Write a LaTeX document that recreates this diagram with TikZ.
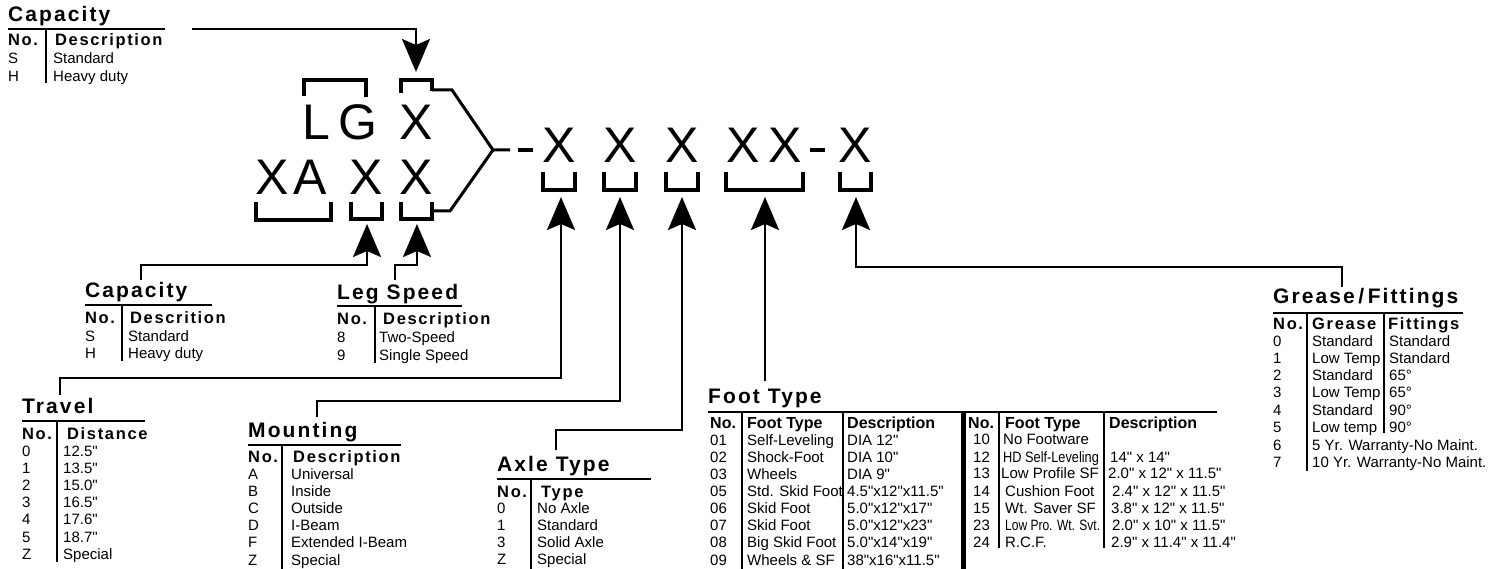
\documentclass[tikz,border=0pt]{standalone}
\usepackage{fontspec}
\setmainfont{Liberation Sans}[Ligatures=TeXOff]
\newfontfamily\ttlf[LetterSpace=10]{Liberation Sans}
\newfontfamily\hdrf[LetterSpace=10]{Liberation Sans}
\newfontfamily\condA[FakeStretch=0.85,Ligatures=TeXOff]{Liberation Sans}
\newfontfamily\condB[FakeStretch=0.8,Ligatures=TeXOff]{Liberation Sans}
\usetikzlibrary{arrows.meta}
\begin{document}
\begin{tikzpicture}[x=1pt,y=-1pt,
 ttl/.style={anchor=base west,inner sep=0,font=\fontsize{21}{21}\ttlf\bfseries},
 hdr/.style={anchor=base west,inner sep=0,font=\fontsize{16.5}{16.5}\hdrf\bfseries},
 fhdr/.style={anchor=base west,inner sep=0,font=\fontsize{16}{16}\selectfont\bfseries},
 cell/.style={anchor=base west,inner sep=0,font=\fontsize{15}{16}\selectfont},
 big/.style={anchor=base,inner sep=0,font=\fontsize{50}{50}\selectfont},
 rul/.style={line width=1.8pt},
 brk/.style={line width=3.5pt,line join=miter},
 ylin/.style={line width=3pt,line join=miter},
 conn/.style={line width=2pt,-{Stealth[length=33pt,width=28pt,inset=6pt]}},
]
\useasboundingbox (0,0) rectangle (1509,569);

% ---------- big code letters ----------
\node[big] (tL) at (316,140) {L};
\node[big] (tG) at (358,140) {G};
\node[big] (tX) at (416,140) {X};
\node[big] (bX1) at (272,195) {X};
\node[big] (bA) at (310,195) {A};
\node[big] (bX2) at (366,195) {X};
\node[big] (bX3) at (416,195) {X};
\node[big] (m1) at (559,163) {X};
\node[big] (m2) at (620,163) {X};
\node[big] (m3) at (682,163) {X};
\node[big] (m4) at (743,163) {X};
\node[big] (m5) at (785,163) {X};
\node[big] (m6) at (855,163) {X};
\draw[line width=4pt] (518,150) -- (533,150);
\draw[line width=4pt] (810,150) -- (825,150);

% ---------- brackets ----------
\draw[brk] (304,96) -- (304,80) -- (366,80) -- (366,97);
\draw[brk] (401,93) -- (401,80) -- (432,80) -- (432,91);
\draw[brk] (256,202) -- (256,220) -- (331,220) -- (331,202);
\draw[brk] (351,202) -- (351,219) -- (382,219) -- (382,202);
\draw[brk] (401,202) -- (401,219) -- (432,219) -- (432,202);
\coordinate (jn) at (493,150);
\draw[ylin] (432,90) -- (452,90) -- (jn) -- (510,150);
\draw[ylin] (432,211) -- (450,211) -- (jn);
\draw[brk] (543,172) -- (543,190) -- (575,190) -- (575,172);
\draw[brk] (604,172) -- (604,190) -- (636,190) -- (636,172);
\draw[brk] (666,172) -- (666,190) -- (698,190) -- (698,172);
\draw[brk] (726,172) -- (726,190) -- (803,190) -- (803,172);
\draw[brk] (840,172) -- (840,190) -- (871,190) -- (871,172);

% ---------- arrow tips ----------
\coordinate (tipTop) at (416,72);
\coordinate (tipCap) at (367,224);
\coordinate (tipLeg) at (417,224);
\coordinate (tipTr) at (561,197);
\coordinate (tipMo) at (620,197);
\coordinate (tipAx) at (682,197);
\coordinate (tipFo) at (765,197);
\coordinate (tipGr) at (856,197);

% ---------- top Capacity ----------
\node[ttl] (capT) at (8,22) {Capacity};
\draw[rul] (8,29) -- (165,29);
\draw[rul] (46,29) -- (46,83);
\node[hdr] (capTn) at (8,46) {No.};
\node[hdr] (capTd) at (55,46) {Description};
\node[cell] (capT1) at (8,64) {S};
\node[cell] (capT2) at (53,64) {Standard};
\node[cell] (capT3) at (8,82) {H};
\node[cell] (capT4) at (53,82) {Heavy duty};
\coordinate (capTs) at (192,29);
\draw[conn] (capTs) -| (tipTop);

% ---------- lower Capacity ----------
\node[ttl] (capL) at (85,298) {Capacity};
\draw[rul] (85,305) -- (212,305);
\draw[rul] (122,305) -- (122,361);
\node[hdr] (capLn) at (85,323) {No.};
\node[hdr] (capLd) at (130,323) {Descrition};
\node[cell] (capL1) at (85,341) {S};
\node[cell] (capL2) at (128,341) {Standard};
\node[cell] (capL3) at (85,358) {H};
\node[cell] (capL4) at (128,358) {Heavy duty};
\coordinate (capLs) at (141,280);
\draw[conn] (capLs) -- (141,265) -| (tipCap);

% ---------- Leg Speed ----------
\node[ttl] (leg) at (337,299) {Leg Speed};
\draw[rul] (337,306) -- (462,306);
\draw[rul] (375,306) -- (375,363);
\node[hdr] (legn) at (337,324) {No.};
\node[hdr] (legd) at (383,324) {Description};
\node[cell] (leg1) at (337,342) {8};
\node[cell] (leg2) at (379,342) {Two-Speed};
\node[cell] (leg3) at (337,360) {9};
\node[cell] (leg4) at (379,360) {Single Speed};
\coordinate (legs) at (395,280);
\draw[conn] (legs) -- (395,265) -| (tipLeg);

% ---------- Travel ----------
\node[ttl] (trv) at (22,413) {Travel};
\draw[rul] (22,421) -- (145,421);
\draw[rul] (57,421) -- (57,562);
\node[hdr] (trvn) at (22,439) {No.};
\node[hdr] (trvd) at (67,439) {Distance};
\foreach \ka/\kb [count=\i] in {0/12.5",1/13.5",2/15.0",3/16.5",4/17.6",5/18.7",Z/Special}{
  \node[cell] (trvA\i) at (22,{456+17.2*(\i-1)}) {\ka};
  \node[cell] (trvB\i) at (63,{456+17.2*(\i-1)}) {\kb};
}
\coordinate (trvs) at (60,395);
\draw[conn] (trvs) -- (60,378) -| (tipTr);

% ---------- Mounting ----------
\node[ttl] (mnt) at (248,437) {Mounting};
\draw[rul] (248,445) -- (401,445);
\draw[rul] (282,445) -- (282,569);
\node[hdr] (mntn) at (248,462) {No.};
\node[hdr] (mntd) at (293,462) {Description};
\foreach \ka/\kb [count=\i] in {A/Universal,B/Inside,C/Outside,D/I-Beam,F/Extended I-Beam,Z/Special}{
  \node[cell] (mntA\i) at (248,{479+17.2*(\i-1)}) {\ka};
  \node[cell] (mntB\i) at (291,{479+17.2*(\i-1)}) {\kb};
}
\coordinate (mnts) at (317,417);
\draw[conn] (mnts) -- (317,401) -| (tipMo);

% ---------- Axle Type ----------
\node[ttl] (axl) at (497,471) {Axle Type};
\draw[rul] (497,479) -- (651,479);
\draw[rul] (531,479) -- (531,569);
\node[hdr] (axln) at (497,497) {No.};
\node[hdr] (axld) at (541,497) {Type};
\foreach \ka/\kb [count=\i] in {0/No Axle,1/Standard,3/Solid Axle,Z/Special}{
  \node[cell] (axlA\i) at (497,{513+17.3*(\i-1)}) {\ka};
  \node[cell] (axlB\i) at (537,{513+17.3*(\i-1)}) {\kb};
}
\coordinate (axls) at (556,450);
\draw[conn] (axls) -- (556,430) -| (tipAx);

% ---------- Foot Type ----------
\node[ttl] (ft) at (708,403) {Foot Type};
\draw[rul] (708,412) -- (1217,412);
\draw[rul] (742,412) -- (742,569);
\draw[rul] (843,412) -- (843,569);
\draw[line width=5pt] (963,412) -- (963,569);
\draw[rul] (999,412) -- (999,548);
\draw[rul] (1104,412) -- (1104,548);
\node[fhdr] (ftn) at (710,428) {No.};
\node[fhdr] (ftt) at (747,428) {Foot Type};
\node[fhdr] (ftd) at (847,428) {Description};
\node[fhdr] (ftn2) at (968,428) {No.};
\node[fhdr] (ftt2) at (1005,428) {Foot Type};
\node[fhdr] (ftd2) at (1109,428) {Description};
\foreach \ka/\kb/\kc [count=\i] in {01/Self-Leveling/DIA 12",02/Shock-Foot/DIA 10",03/Wheels/DIA 9",05/Std. Skid Foot/4.5"x12"x11.5",06/Skid Foot/5.0"x12"x17",07/Skid Foot/5.0"x12"x23",08/Big Skid Foot/5.0"x14"x19",09/Wheels \& SF/38"x16"x11.5"}{
  \node[cell] (ftA\i) at (710,{445+17.15*(\i-1)}) {\ka};
  \node[cell] (ftB\i) at (747,{445+17.15*(\i-1)}) {\kb};
  \node[cell] (ftC\i) at (847,{445+17.15*(\i-1)}) {\kc};
}
\node[cell] (fr1a) at (973,444) {10};
\node[cell] (fr1b) at (1003,444) {No Footware};
\node[cell] (fr2a) at (973,462) {12};
\node[cell,font=\fontsize{15}{16}\condA] (fr2b) at (1003,462) {HD Self-Leveling};
\node[cell] (fr2c) at (1110,462) {14" x 14"};
\node[cell] (fr3a) at (973,478) {13};
\node[cell] (fr3b) at (1001,478) {Low Profile SF};
\node[cell] (fr3c) at (1108,478) {2.0" x 12" x 11.5"};
\node[cell] (fr4a) at (973,496) {14};
\node[cell] (fr4b) at (1005,496) {Cushion Foot};
\node[cell] (fr4c) at (1112,496) {2.4" x 12" x 11.5"};
\node[cell] (fr5a) at (973,513) {15};
\node[cell] (fr5b) at (1005,513) {Wt. Saver SF};
\node[cell] (fr5c) at (1111,513) {3.8" x 12" x 11.5"};
\node[cell] (fr6a) at (973,530) {23};
\node[cell,font=\fontsize{15}{16}\condB] (fr6b) at (1005,530) {Low Pro. Wt. Svt.};
\node[cell] (fr6c) at (1112,530) {2.0" x 10" x 11.5"};
\node[cell] (fr7a) at (973,547) {24};
\node[cell] (fr7b) at (1005,547) {R.C.F.};
\node[cell] (fr7c) at (1111,547) {2.9" x 11.4" x 11.4"};
\coordinate (fts) at (765,381);
\draw[conn] (fts) -- (tipFo);

% ---------- Grease / Fittings ----------
\node[ttl] (gr) at (1273,303) {Grease\,/\,Fittings};
\draw[rul] (1273,313) -- (1463,313);
\draw[rul] (1307,313) -- (1307,471);
\draw[rul] (1384,313) -- (1384,433);
\node[hdr] (grn) at (1273,329) {No.};
\node[hdr] (grg) at (1312,329) {Grease};
\node[hdr] (grf) at (1388,329) {Fittings};
\foreach \ka/\kb/\kc [count=\i] in {0/Standard/Standard,1/Low Temp/Standard,2/Standard/65°,3/Low Temp/65°,4/Standard/90°,5/Low temp/90°}{
  \node[cell] (grA\i) at (1273,{346+17.3*(\i-1)}) {\ka};
  \node[cell] (grB\i) at (1312,{346+17.3*(\i-1)}) {\kb};
  \node[cell] (grC\i) at (1389,{346+17.3*(\i-1)}) {\kc};
}
\node[cell] (gr7a) at (1273,450) {6};
\node[cell] (gr7b) at (1312,450) {5 Yr. Warranty-No Maint.};
\node[cell] (gr8a) at (1273,467) {7};
\node[cell] (gr8b) at (1312,467) {10 Yr. Warranty-No Maint.};
\coordinate (grs) at (1342,287);
\draw[conn] (grs) -- (1342,267) -| (tipGr);

\end{tikzpicture}
\end{document}
